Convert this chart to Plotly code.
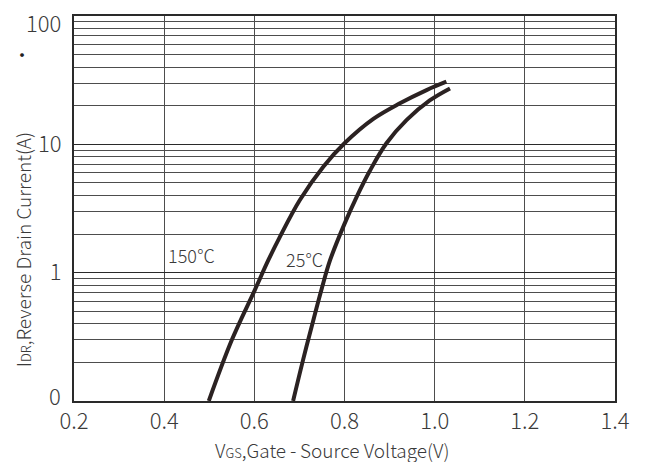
import plotly.graph_objects as go

# 150 °C curve
vgs_150 = [0.499, 0.550, 0.601, 0.631, 0.655, 0.701, 0.753, 0.800, 0.864, 0.923, 0.982, 1.026]
idr_150 = [0.10, 0.298, 0.731, 1.25, 1.85, 3.68, 6.69, 10.2, 15.8, 20.9, 26.5, 30.8]

# 25 °C curve
vgs_25 = [0.686, 0.708, 0.731, 0.749, 0.768, 0.800, 0.827, 0.856, 0.893, 0.938, 0.989, 1.034]
idr_25 = [0.10, 0.208, 0.428, 0.74, 1.25, 2.40, 3.9, 6.2, 10.2, 15.5, 22.0, 27.3]

x_ticks = [0.2, 0.4, 0.6, 0.8, 1.0, 1.2, 1.4]
x_tick_text = ["0.2", "0.4", "0.6", "0.8", "1.0", "1.2", "1.4"]
y_ticks = [0.1, 1, 10, 100]
y_tick_text = ["0", "1", "10", "100"]
y_minor = [m * d for d in (0.1, 1, 10) for m in range(2, 10)]

FONT = "Noto Sans CJK SC"
LINE = "#2b2222"
GRID = "#4d4d4d"
TXT = "#3a3a3a"

fig = go.Figure()
for xs, ys in ((vgs_150, idr_150), (vgs_25, idr_25)):
    fig.add_trace(go.Scatter(x=xs, y=ys, mode="lines",
                             line=dict(color=LINE, width=4, shape="spline", smoothing=1.0),
                             showlegend=False, hoverinfo="skip"))

# edge labels (first/last) are drawn as annotations nudged inside, like the reference
axis_text = ["" if v in (y_ticks[0], y_ticks[-1]) else t for v, t in zip(y_ticks, y_tick_text)]

fig.update_layout(
    width=651, height=462,
    margin=dict(l=74, r=36, t=16, b=61),
    paper_bgcolor="white", plot_bgcolor="white",
    font=dict(family=FONT, color=TXT),
    xaxis=dict(range=[0.2, 1.4], tickmode="array", tickvals=x_ticks, ticktext=x_tick_text,
               automargin=False,
               showgrid=True, gridcolor=GRID, gridwidth=1,
               showline=True, linecolor="#2a2a2a", linewidth=2, mirror=True,
               ticks="", tickfont=dict(size=22, family=FONT, color=TXT, weight=300),
               zeroline=False),
    yaxis=dict(type="log", range=[-1.0005, 2.0005], tickmode="array", tickvals=y_ticks,
               ticktext=axis_text, ticklabeloverflow="allow", automargin=False,
               showgrid=True, gridcolor="#2a2a2a", gridwidth=1,
               minor=dict(tickmode="array", tickvals=y_minor, showgrid=True,
                          gridcolor=GRID, gridwidth=1, ticks=""),
               showline=True, linecolor="#2a2a2a", linewidth=2, mirror=True,
               ticks="", ticklabelstandoff=6,
               tickfont=dict(size=22, family=FONT, color=TXT, weight=300),
               zeroline=False),
)

fig.add_annotation(xref="paper", yref="paper", x=-0.02, y=0.984, text=y_tick_text[-1],
                   showarrow=False, xanchor="right", yanchor="middle",
                   font=dict(size=22, family=FONT, color=TXT, weight=300))
fig.add_annotation(xref="paper", yref="paper", x=-0.02, y=0.016, text=y_tick_text[0],
                   showarrow=False, xanchor="right", yanchor="middle",
                   font=dict(size=22, family=FONT, color=TXT, weight=300))

fig.add_annotation(xref="paper", yref="paper", x=-0.096, y=0.392,
                   text="I<span style='font-size:13px'>DR</span>,Reverse Drain Current(A)",
                   textangle=-90, showarrow=False, xanchor="center", yanchor="middle",
                   font=dict(size=19, family=FONT, color=TXT, weight=300))
fig.add_annotation(xref="paper", yref="paper", x=0.477, y=-0.125,
                   text="V<span style='font-size:13px'>GS</span>,Gate\u2009-\u2009Source Voltage(V)",
                   showarrow=False, xanchor="center", yanchor="middle",
                   font=dict(size=19, family=FONT, color=TXT, weight=300))
fig.add_annotation(xref="paper", yref="paper", x=-0.096, y=0.9,
                   text="·", showarrow=False, xanchor="center", yanchor="middle",
                   font=dict(size=18, family=FONT, color="#222"))
fig.add_annotation(x=0.4616, y=0.137, xref="x", yref="y", text="150℃", showarrow=False,
                   font=dict(size=18, family=FONT, color=TXT, weight=300))
fig.add_annotation(x=0.711, y=0.106, xref="x", yref="y", text="25℃", showarrow=False,
                   font=dict(size=18, family=FONT, color=TXT, weight=300))

fig.write_html("out.html", config={"displayModeBar": False},
               post_script="document.body.style.margin='0';document.body.style.padding='0';")
